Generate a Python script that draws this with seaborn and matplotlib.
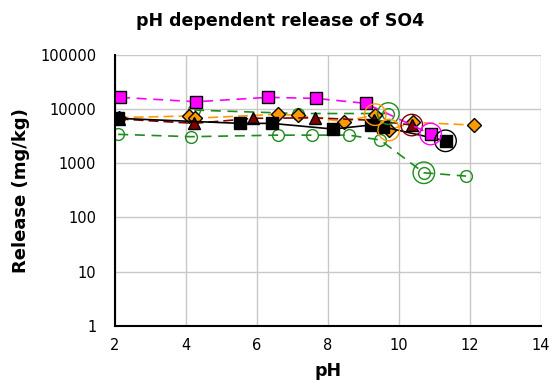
import numpy as np
import pandas as pd
import matplotlib
matplotlib.use("Agg")
import matplotlib.pyplot as plt
import seaborn as sns
from matplotlib.ticker import LogLocator, FixedLocator, NullFormatter, MultipleLocator

# ---- data ----
mag_ph = [2.14, 4.29, 6.30, 7.65, 9.06, 10.89]
mag_val = [16500, 13700, 16500, 15800, 12800, 3470]

blk_ph = [2.09, 5.53, 6.41, 8.14, 9.20, 9.55, 11.31]
blk_val = [6760, 5460, 5460, 4290, 5080, 4700, 2600]

red_ph = [2.10, 4.23, 5.90, 7.62, 9.30, 10.36]
red_val = [6600, 5460, 6760, 6920, 6200, 5080]

org_ph = [2.10, 4.09, 4.25, 6.58, 7.15, 8.45, 9.33, 9.71, 10.40, 12.10]
org_val = [7000, 7470, 6800, 8020, 7700, 5850, 7900, 4110, 5700, 5080]

grn1_ph = [4.23, 7.15, 9.70]
grn1_val = [9600, 8300, 8300]

grn2_ph = [2.09, 4.14, 6.60, 7.54, 8.59, 9.47, 10.70, 11.89]
grn2_val = [3420, 3100, 3310, 3310, 3310, 2690, 668, 580]

# highlighted points (large open circles)
hl_ph = [10.89, 11.31, 10.36, 9.33, 9.71, 9.70, 10.70]
hl_val = [3470, 2600, 5080, 7900, 4110, 8300, 668]
hl_col = ["#FF00FF", "#000000", "#800000", "#FF9900", "#FF9900", "#1E8C1E", "#1E8C1E"]

x_ticks = [2, 4, 6, 8, 10, 12, 14]
y_ticks = [1, 10, 100, 1000, 10000, 100000]
y_labels = ["1", "10", "100", "1000", "10000", "100000"]

sns.set_theme(style="white")
plt.rcParams['font.family'] = ['DejaVu Sans']
plt.rcParams['text.color'] = 'black'
plt.rcParams['axes.labelcolor'] = 'black'

fig = plt.figure(figsize=(5.57, 3.89), dpi=100)
ax = fig.add_axes([115/557, 1-325.7/389, (541-115)/557, (325.7-55)/389])

GREEN = "#1E8C1E"
series = [
    (grn2_ph, grn2_val, GREEN, 'o', 'none', GREEN, (0, (6, 4)), 8.5),
    (grn1_ph, grn1_val, GREEN, 'o', 'none', GREEN, (0, (6, 4)), 8.5),
    (org_ph, org_val, "#FF9900", 'D', "#FF9900", "black", (0, (6, 3)), 7),
    (red_ph, red_val, "#800000", '^', "#800000", "black", (0, (6, 3)), 9),
    (blk_ph, blk_val, "black", 's', "black", "black", '-', 8.5),
    (mag_ph, mag_val, "#FF00FF", 's', "#FF00FF", "black", (0, (6, 4)), 8.5),
]

for xs, ys, col, mk, mfc, mec, ls, ms in series:
    df = pd.DataFrame({"pH": xs, "val": ys})
    sns.lineplot(data=df, x="pH", y="val", ax=ax, color=col, estimator=None,
                 sort=True, linestyle=ls, linewidth=1.2, marker=mk,
                 markersize=ms, markerfacecolor=mfc, markeredgecolor=mec,
                 markeredgewidth=1.0)

hl = pd.DataFrame({"pH": hl_ph, "val": hl_val, "c": hl_col})
for c, sub in hl.groupby("c"):
    sns.scatterplot(data=sub, x="pH", y="val", ax=ax, s=240, marker='o',
                    facecolors='none', edgecolor=c, linewidth=1.0, zorder=5)

ax.set_yscale('log')
ax.set_xlim(2, 14)
ax.set_ylim(1, 100000)
ax.xaxis.set_major_locator(FixedLocator(x_ticks))
ax.xaxis.set_minor_locator(MultipleLocator(0.4))
ax.yaxis.set_major_locator(FixedLocator(y_ticks))
ax.set_yticklabels(y_labels)
ax.yaxis.set_minor_locator(LogLocator(base=10, subs=np.arange(2, 10), numticks=20))
ax.yaxis.set_minor_formatter(NullFormatter())

ax.grid(True, which='major', color='#C8C8C8', linewidth=1.0)
ax.set_axisbelow(True)
for s in ['top', 'right']:
    ax.spines[s].set_visible(False)
for s in ['left', 'bottom']:
    ax.spines[s].set_color('black')
    ax.spines[s].set_linewidth(1.5)

ax.tick_params(axis='both', which='major', direction='inout', length=7, width=1.2,
               colors='black', labelsize=10.5, labelcolor='black', pad=5)
ax.tick_params(axis='both', which='minor', direction='in', length=4, width=1.0,
               colors='black')
ax.tick_params(axis='y', which='major', pad=10)

ax.set_xlabel("pH", fontsize=12.5, fontweight='bold', labelpad=7, color='black')
ax.set_ylabel("Release (mg/kg)", fontsize=13, fontweight='bold', labelpad=7, color='black')
fig.text(0.503, 0.947, "pH dependent release of SO4", ha='center', va='center',
         fontsize=12.5, fontweight='bold', color='black')

fig.savefig("out.png", dpi=100)
